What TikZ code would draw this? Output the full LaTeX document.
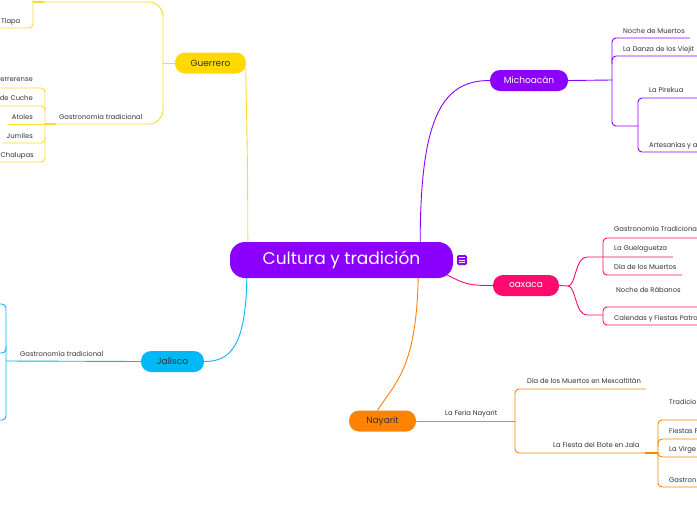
\documentclass[tikz,border=0pt]{standalone}
\usepackage{fontspec}
\setmainfont{Poppins}
\usetikzlibrary{calc}
\definecolor{cyellow}{HTML}{FFD900}
\definecolor{lyellow}{HTML}{FFD92E}
\definecolor{cpurple}{HTML}{8C00FF}
\definecolor{cpink}{HTML}{FF0A6E}
\definecolor{ccyan}{HTML}{00B8F5}
\definecolor{corange}{HTML}{FF8200}
\definecolor{txt}{HTML}{333333}
\begin{document}
\begin{tikzpicture}[x=1pt,y=-1pt,
  lbl/.style={font=\fontsize{6.8}{7.5}\selectfont, text=txt, inner sep=0pt, anchor=base west},
  lble/.style={lbl, anchor=base east},
  topic/.style={rounded corners=10pt, minimum height=21pt, inner sep=0pt, font=\fontsize{9}{10}\selectfont},
  yl/.style={draw=lyellow, line width=0.9pt},
  pl/.style={draw=cpurple, line width=0.9pt},
  kl/.style={draw=cpink, line width=0.9pt},
  cl/.style={draw=ccyan, line width=0.9pt},
  ol/.style={draw=corange, line width=0.9pt},
  rc/.style={rounded corners=4pt}]
\useasboundingbox (0,0) rectangle (697,520);
\clip (0,0) rectangle (697,520);
\fill[white] (0,0) rectangle (697,520);

% main node and topics
\node[fill=cpurple, rounded corners=15pt, minimum width=223pt, minimum height=36pt, inner sep=0pt, text=white, font=\fontsize{17}{20}\selectfont] (root) at (341.5,260) {Cultura y tradición};
\node[fill=cpurple, rounded corners=1.5pt, minimum size=10pt, inner sep=0pt] (icon) at (462,260) {};
\foreach \dy in {-2.3,0,2.3} \draw[white, line width=0.7pt] ($(icon.center)+(-2.6,\dy)$) -- ($(icon.center)+(2.6,\dy)$);

\node[topic, fill=cyellow, text=txt, minimum width=71pt] (gue) at (210.5,63) {Guerrero};
\node[topic, fill=cpurple, text=white, minimum width=78pt] (mich) at (529,80.5) {Michoacán};
\node[topic, fill=cpink, text=white, minimum width=66pt] (oax) at (526,285.5) {oaxaca};
\node[topic, fill=ccyan, text=txt, minimum width=63pt] (jal) at (172.5,361.5) {Jalisco};
\node[topic, fill=corange, text=txt, minimum width=67pt] (nay) at (382.5,421) {Nayarit};

% connectors from root
\draw[yl] ($(root.north west)+(18,0)$) .. controls +(0,-90) and +(1,60) .. ($(gue.east)+(-0.5,5)$);
\draw[pl] ($(root.north east)+(-33,0)$) .. controls +(0,-130) and +(-45,0) .. (mich.west);
\draw[kl] ($(root.east)+(-6,15)$) .. controls +(18,9) and +(-25,0) .. (oax.west);
\draw[cl] ($(root.south west)+(17,0)$) .. controls +(-1,70) and +(25,0) .. (jal.east);
\draw[ol] ($(root.south east)+(-35,0)$) .. controls +(-2,90) and +(18,-28) .. ($(nay.north)+(-5,0)$);

% Guerrero subtree
\coordinate (gj) at (163,63);
\draw[yl] (gue.west) -- (gj);
\draw[yl, rounded corners=14pt] (33,2) -- (163,2) -- (163,124) -- (45,124);
\draw[yl, line width=1.6pt] (33,2) -- (44,2);
\draw[yl, line width=1.6pt] (45,124) -- (56,124);
\draw[yl, rc] (0,28) -- (33,28) -- (33,-6);
\node[lbl] (tlapa) at (1,23.5) {Tlapa};
\node[lbl] (gastg) at (59,119.5) {Gastronomía tradicional};
\draw[yl, rc] (0,88) -- (45,88) -- (45,162) -- (0,162);
\draw[yl, rc] (0,106) -- (45,106) -- (45,112);
\draw[yl] (8,124) -- (45,124);
\draw[yl, rc] (3,143) -- (45,143) -- (45,137);
\node[lble] (g1) at (33,81.5) {errerense};
\node[lble] (g2) at (33,100.5) {de Cuche};
\node[lble] (g3) at (33,119.5) {Atoles};
\node[lble] (g4) at (33,138.5) {Jumiles};
\node[lbl] (g5) at (0.5,157.5) {Chalupas};

% Michoacan subtree
\coordinate (mj) at (612,80);
\draw[pl] (mich.east) -- (mj);
\draw[pl, rc] (690,38) -- (612,38) -- (612,126) -- (638,126);
\draw[pl, rc] (612,64) -- (612,56) -- (697,56);
\draw[pl, rc] (697,98) -- (638,98) -- (638,152) -- (697,152);
\node[lbl] (m1) at (623,33.5) {Noche de Muertos};
\node[lbl] (m2) at (623,51.5) {La Danza de los Viejit};
\node[lbl] (m3) at (649,92.5) {La Pirekua};
\node[lbl] (m4) at (649,147.5) {Artesanías y a};

% oaxaca subtree
\coordinate (oj) at (568,286);
\draw[kl] (oax.east) -- (oj);
\draw[kl] (oj) .. controls (576,286) and (575,257) .. (587,257) -- (673,257);
\draw[kl] (oj) .. controls (576,286) and (575,315) .. (587,315) -- (603,315);
\draw[kl, rc] (697,238) -- (603,238) -- (603,275) -- (682,275);
\draw[kl, rc] (697,307) -- (603,307) -- (603,325) -- (697,325);
\node[lbl] (o1) at (614,231.5) {Gastronomía Tradiciona};
\node[lbl] (o2) at (614,250.5) {La Guelaguetza};
\node[lbl] (o3) at (614,269.5) {Día de los Muertos};
\node[lbl] (o4) at (616,292.5) {Noche de Rábanos};
\node[lbl] (o5) at (614,320.5) {Calendas y Fiestas Patro};

% Nayarit subtree
\coordinate (nj) at (515,421);
\draw[ol] (nay.east) -- (nj);
\draw[ol, rc] (646,389) -- (515,389) -- (515,453) -- (658,453);
\draw[ol, line width=1.6pt] (645,453) -- (658,453);
\draw[ol, rc] (697,420) -- (658,420) -- (658,487) -- (697,487);
\draw[ol, rc] (658,447) -- (658,439) -- (697,439);
\draw[ol, rc] (658,452) -- (658,457) -- (697,457);
\node[lbl] (n0) at (445,415.5) {La Feria Nayarit};
\node[lbl] (n1) at (527,383.5) {Día de los Muertos en Mexcaltitán};
\node[lbl] (n2) at (553,447.5) {La Fiesta del Elote en Jala};
\node[lbl] (n3) at (669,404.5) {Tradicio};
\node[lbl] (n4) at (669,433) {Fiestas P};
\node[lbl] (n5) at (669,451.5) {La Virge};
\node[lbl] (n6) at (669,482.5) {Gastron};

% Jalisco subtree
\coordinate (jj) at (6,361);
\draw[cl] (jal.west) -- (jj);
\draw[cl, rc] (-3,304) -- (6,304) -- (6,420) -- (-3,420);
\draw[cl, rc] (6,346) -- (6,353) -- (-3,353);
\node[lbl] (j1) at (20,356.5) {Gastronomía tradicional};
\end{tikzpicture}
\end{document}
